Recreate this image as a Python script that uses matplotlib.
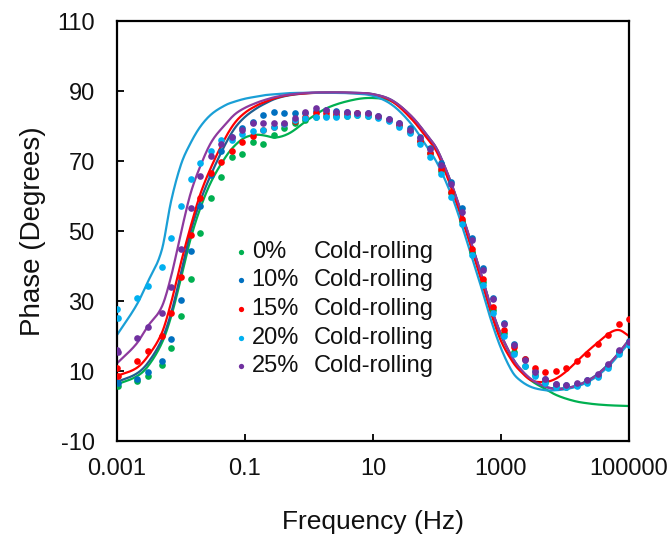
import numpy as np
import matplotlib
matplotlib.use("Agg")
import matplotlib.pyplot as plt

plt.rcParams['font.family'] = ['Liberation Sans', 'DejaVu Sans']

# Measured frequencies (Hz)
freq = [0.001, 0.00103, 0.00205, 0.00302, 0.00505, 0.00705, 0.0101, 0.0142, 0.0200,
        0.0295, 0.0429, 0.0625, 0.0910, 0.133, 0.193, 0.281, 0.410, 0.596, 0.869,
        1.265, 1.84, 2.68, 3.91, 5.69, 8.29, 12.1, 17.6, 25.6, 37.3,
        54.3, 79.0, 115, 168, 244, 356, 518, 754, 1099, 1600,
        2330, 3393, 4942, 7197, 10481, 15264, 22230, 32375, 47149, 68665, 100000]

# Measured phase angles (degrees)
phase_0 = [6.2, 5.8, 7.2, 8.7, 11.6, 16.6, 25.7, 36.4, 49.4, 59.3,
           65.5, 71.2, 71.9, 75.5, 75.0, 77.5, 79.5, 81.0, 81.8, 82.5,
           82.8, 83.0, 83.0, 83.2, 83.0, 82.5, 81.6, 80.3, 78.5, 75.8,
           72.2, 67.2, 60.8, 52.8, 44.0, 35.3, 27.4, 20.8, 15.5, 11.5,
           9.0, 7.0, 5.8, 5.5, 6.0, 7.0, 8.7, 11.5, 15.4, 18.0]
phase_10 = [7.0, 6.6, 7.7, 9.7, 12.9, 19.2, 30.3, 44.2, 57.2, 66.0,
            72.9, 77.0, 79.3, 81.2, 83.1, 84.1, 83.6, 83.6, 83.8, 84.2,
            84.5, 84.2, 84.0, 83.8, 83.6, 82.9, 82.0, 81.0, 79.3, 77.0,
            73.8, 69.5, 64.0, 56.5, 48.1, 39.3, 30.9, 23.7, 17.6, 13.3,
            9.9, 7.7, 6.4, 6.0, 6.4, 7.3, 9.0, 11.8, 15.7, 18.6]
phase_15 = [10.9, 8.7, 13.0, 15.8, 19.9, 26.6, 36.8, 48.9, 59.4, 66.5,
            69.8, 72.9, 75.3, 77.2, 78.8, 79.6, 80.5, 81.5, 82.5, 83.6,
            83.6, 83.5, 83.5, 83.6, 83.3, 82.6, 81.6, 80.2, 78.4, 75.8,
            72.4, 67.6, 61.2, 53.4, 44.8, 36.2, 28.3, 21.7, 16.8, 13.4,
            11.0, 9.8, 10.0, 10.9, 12.9, 15.0, 17.6, 20.3, 23.3, 24.8]
phase_20 = [27.8, 25.1, 30.8, 34.4, 39.8, 48.1, 57.2, 64.9, 69.4, 72.8,
            76.0, 76.0, 77.8, 78.6, 79.0, 79.6, 80.5, 81.7, 82.2, 82.7,
            82.7, 82.7, 83.0, 83.1, 82.9, 82.2, 81.3, 79.8, 77.9, 75.0,
            71.1, 66.3, 59.6, 51.9, 43.1, 34.6, 26.7, 20.0, 15.0, 11.4,
            8.6, 6.7, 5.5, 5.3, 5.7, 6.7, 8.4, 11.0, 15.0, 17.4]
phase_25 = [15.9, 15.5, 19.3, 22.7, 26.5, 34.1, 44.8, 56.6, 65.8, 71.4,
            74.8, 76.8, 79.0, 80.8, 80.8, 81.0, 81.0, 82.2, 83.9, 85.2,
            84.6, 84.0, 84.0, 83.6, 83.6, 82.9, 81.9, 80.8, 79.0, 76.7,
            73.3, 68.9, 63.3, 55.5, 47.5, 38.8, 30.6, 23.4, 17.4, 13.2,
            9.8, 7.6, 6.3, 6.0, 6.5, 7.4, 9.1, 12.0, 16.0, 18.4]

# Equivalent-circuit fit curves
fit_freq = [0.001, 0.002, 0.003, 0.005, 0.007, 0.01, 0.014, 0.02,
            0.03, 0.05, 0.07, 0.1, 0.15, 0.2, 0.3, 0.5,
            1, 2, 5, 10, 20, 40, 70, 100,
            150, 200, 300, 500, 700, 1000, 1500, 2000,
            3000, 5000, 7000, 10000, 15000, 20000, 30000, 50000,
            70000, 100000]
fit_0 = [6.2, 8.4, 11.2, 17.9, 25.5, 36.5, 47.5, 56.5,
         64.3, 71.2, 74.5, 76.7, 77.5, 77.3, 76.7, 78.0,
         82.0, 85.3, 87.5, 88.0, 87.0, 82.6, 77.2, 73.2,
         65.8, 59.5, 49.8, 37.0, 28.0, 20.3, 13.8, 10.4,
         7.2, 4.8, 3.3, 2.2, 1.3, 0.9, 0.5, 0.2,
         0.1, 0.0]
fit_10 = [6.9, 9.2, 12.2, 18.9, 26.5, 38.0, 49.5, 58.5,
          66.5, 75.0, 79.5, 82.6, 85.0, 86.3, 87.8, 88.8,
          89.4, 89.6, 89.5, 89.1, 87.3, 82.7, 77.3, 73.3,
          65.8, 59.5, 49.8, 37.0, 28.0, 20.3, 13.8, 10.5,
          7.5, 5.5, 5.0, 5.1, 5.8, 6.8, 8.7, 12.3,
          15.3, 18.9]
fit_15 = [8.6, 10.8, 14.1, 20.8, 29.5, 41.0, 51.0, 60.5,
          68.5, 76.8, 81.0, 83.8, 85.8, 86.8, 88.0, 88.9,
          89.4, 89.5, 89.4, 89.0, 87.0, 82.0, 76.5, 72.5,
          64.7, 58.2, 48.6, 35.5, 26.5, 18.6, 12.8, 10.0,
          7.3, 6.9, 7.7, 9.6, 12.6, 14.8, 17.6, 20.9,
          21.7, 20.0]
fit_20 = [20.3, 28.7, 35.3, 44.5, 58.5, 69.0, 75.0, 79.8,
          83.4, 86.0, 87.0, 87.8, 88.4, 88.8, 89.1, 89.4,
          89.5, 89.5, 89.3, 88.6, 86.0, 80.5, 74.0, 69.5,
          62.5, 56.5, 46.5, 33.5, 24.5, 16.5, 9.8, 7.3,
          5.4, 4.5, 4.5, 4.8, 5.5, 6.4, 8.2, 11.7,
          14.7, 18.0]
fit_25 = [12.2, 17.7, 22.7, 28.3, 37.0, 49.5, 60.5, 68.5,
          75.5, 80.6, 83.4, 85.2, 86.6, 87.4, 88.3, 89.0,
          89.5, 89.6, 89.5, 89.1, 87.3, 82.8, 77.4, 73.4,
          66.0, 59.7, 50.0, 37.2, 28.2, 20.5, 13.9, 10.7,
          7.6, 5.5, 4.9, 5.0, 5.8, 6.7, 8.6, 12.2,
          15.3, 18.9]

labels = ["0%", "10%", "15%", "20%", "25%"]
point_colors = ["#00b050", "#0070c0", "#ff0000", "#00b0f0", "#7030a0"]
line_colors = ["#00b050", "#1f5f8f", "#ff0000", "#1a9fd6", "#8e3a9e"]
points = [phase_0, phase_10, phase_15, phase_20, phase_25]
fits = [fit_0, fit_10, fit_15, fit_20, fit_25]
text_color = "#111111"


def smooth_curve(x, y, n=24):
    """Cubic Hermite (Catmull-Rom style) curve through the knots, in log-x."""
    u = np.log10(np.asarray(x, float))
    v = np.asarray(y, float)
    m = np.empty_like(v)
    m[1:-1] = (v[2:] - v[:-2]) / (u[2:] - u[:-2])
    m[0] = (v[1] - v[0]) / (u[1] - u[0])
    m[-1] = (v[-1] - v[-2]) / (u[-1] - u[-2])
    uu, vv = [], []
    for i in range(len(u) - 1):
        h = u[i + 1] - u[i]
        t = np.linspace(0, 1, n, endpoint=False)
        h00 = 2 * t**3 - 3 * t**2 + 1
        h10 = t**3 - 2 * t**2 + t
        h01 = -2 * t**3 + 3 * t**2
        h11 = t**3 - t**2
        uu.append(u[i] + t * h)
        vv.append(h00 * v[i] + h10 * h * m[i] + h01 * v[i + 1] + h11 * h * m[i + 1])
    uu.append([u[-1]])
    vv.append([v[-1]])
    return 10 ** np.concatenate(uu), np.concatenate(vv)


fig = plt.figure(figsize=(6.70, 5.43), dpi=100)
ax = fig.add_axes([0.1746, 0.1878, 0.7642, 0.7735])

for fy, c in zip(fits, line_colors):
    xs, ys = smooth_curve(fit_freq, fy)
    ax.plot(xs, ys, color=c, lw=1.6, zorder=2, solid_capstyle='round')

for py, c in zip(points, point_colors):
    ax.plot(freq, py, 'o', color=c, ms=4.8, mew=0, zorder=3)

ax.set_xscale('log')
ax.set_xlim(0.001, 100000)
ax.set_ylim(-10, 110)
ax.set_xticks([0.001, 0.1, 10, 1000, 100000])
ax.set_xticklabels(["0.001", "0.1", "10", "1000", "100000"])
ax.xaxis.set_minor_locator(matplotlib.ticker.NullLocator())
ax.set_yticks(np.arange(-10, 111, 20))
ax.set_yticklabels([str(v) for v in range(-10, 111, 20)])

for s in ax.spines.values():
    s.set_linewidth(1.6)
ax.tick_params(axis='both', direction='in', length=5, width=1.4,
               labelsize=17, colors=text_color)
ax.tick_params(axis='x', pad=12)
ax.tick_params(axis='y', pad=16)

ax.set_xlabel("Frequency (Hz)", fontsize=19, color=text_color, labelpad=22)
ax.set_ylabel("Phase (Degrees)", fontsize=20, color=text_color, labelpad=8)

# Legend rows: marker, percentage, description
leg_y = [0.4507, 0.3833, 0.3143, 0.2460, 0.1786]
for yy, lab, c in zip(leg_y, labels, point_colors):
    ax.plot([0.2416], [yy], 'o', color=c, ms=3.8, mew=0, transform=ax.transAxes,
            clip_on=False, zorder=4)
    ax.text(0.263, yy, lab, transform=ax.transAxes, fontsize=17,
            va='center', ha='left', color=text_color)
    ax.text(0.3834, yy, "Cold-rolling", transform=ax.transAxes, fontsize=17,
            va='center', ha='left', color=text_color)

fig.savefig("out.png", dpi=100)
